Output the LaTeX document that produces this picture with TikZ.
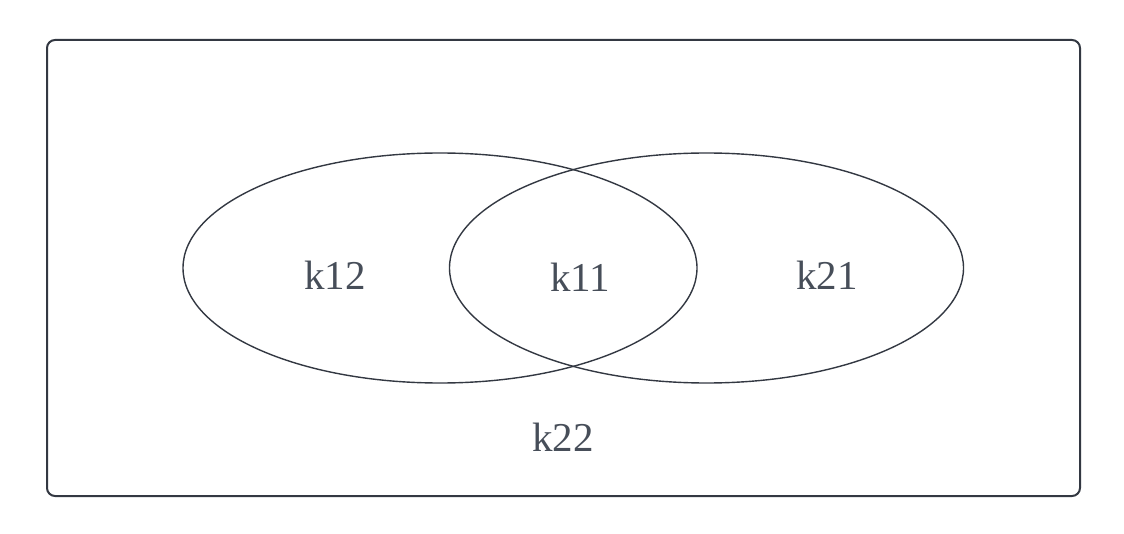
\documentclass[tikz,border=0pt]{standalone}
\usepackage{fontspec}
\setmainfont{Liberation Serif}
\usetikzlibrary{positioning,shapes.geometric}
\definecolor{linegray}{HTML}{333842}
\definecolor{textgray}{HTML}{474E59}

\begin{document}
\begin{tikzpicture}[x=0.5pt, y=-0.5pt, every node/.style={font=\fontsize{20.5pt}{24pt}\selectfont, text=textgray}]
      \useasboundingbox (0,0) rectangle (1124,534);
      \tikzset{set/.style={draw=linegray, line width=0.7pt, ellipse, inner sep=0pt, minimum width=257pt, minimum height=115pt}}
      \draw[linegray, line width=1pt, rounded corners=4pt] (47,40) rectangle (1080,496);
      \node[set] (left) at (440,268) {};
      \node[set] (right) at (706.5,268) {};
      \node (k12) at (335,275) {k12};
      \node (k11) at (580,277) {k11};
      \node (k21) at (827,275) {k21};
      \node (k22) at (563,437) {k22};
    \end{tikzpicture}
\end{document}
